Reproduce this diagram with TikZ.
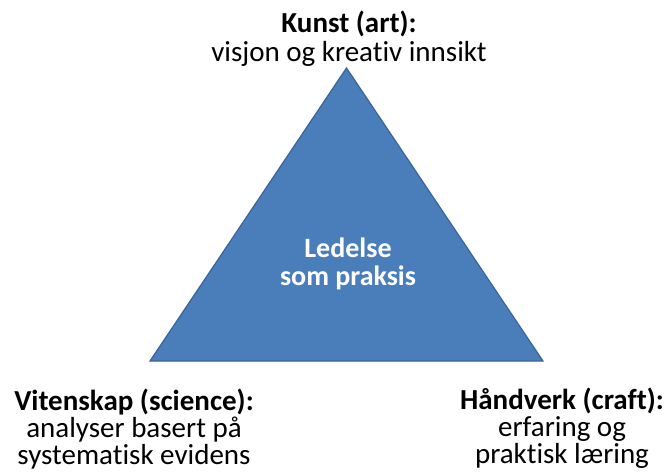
\documentclass[tikz,border=0pt]{standalone}
\usepackage{fontspec}
\setmainfont[Ligatures=NoCommon]{Carlito}
\definecolor{trifill}{HTML}{4A7EBB}
\definecolor{triedge}{HTML}{3A6498}
\begin{document}
\begin{tikzpicture}[x=1pt,y=-1pt,
  lbl/.style={align=center,inner sep=0pt,anchor=base,text=black},
  big/.style={font=\fontsize{29}{29}\selectfont},
  low/.style={font=\fontsize{29}{27}\selectfont},
  mid/.style={font=\fontsize{28}{27.5}\selectfont\bfseries,text=white}]
\useasboundingbox (0,0) rectangle (666,473);
\coordinate (apex) at (346.5,68);
\coordinate (bl) at (150,361);
\coordinate (br) at (543,361);
\draw[fill=trifill,draw=triedge,line width=1.2pt,line join=miter] (apex) -- (bl) -- (br) -- cycle;
\node[lbl,big] (art) at (349,62) {\textbf{Kunst (art):}\\visjon og kreativ innsikt};
\node[lbl,low] (sci) at (134,464) {\textbf{Vitenskap (science):}\\analyser basert på\\systematisk evidens};
\node[lbl,low] (craft) at (562,463) {\textbf{Håndverk (craft):}\\erfaring og\\praktisk læring};
\node[lbl,mid] (center) at (348,285) {Ledelse\\som praksis};
\end{tikzpicture}
\end{document}
